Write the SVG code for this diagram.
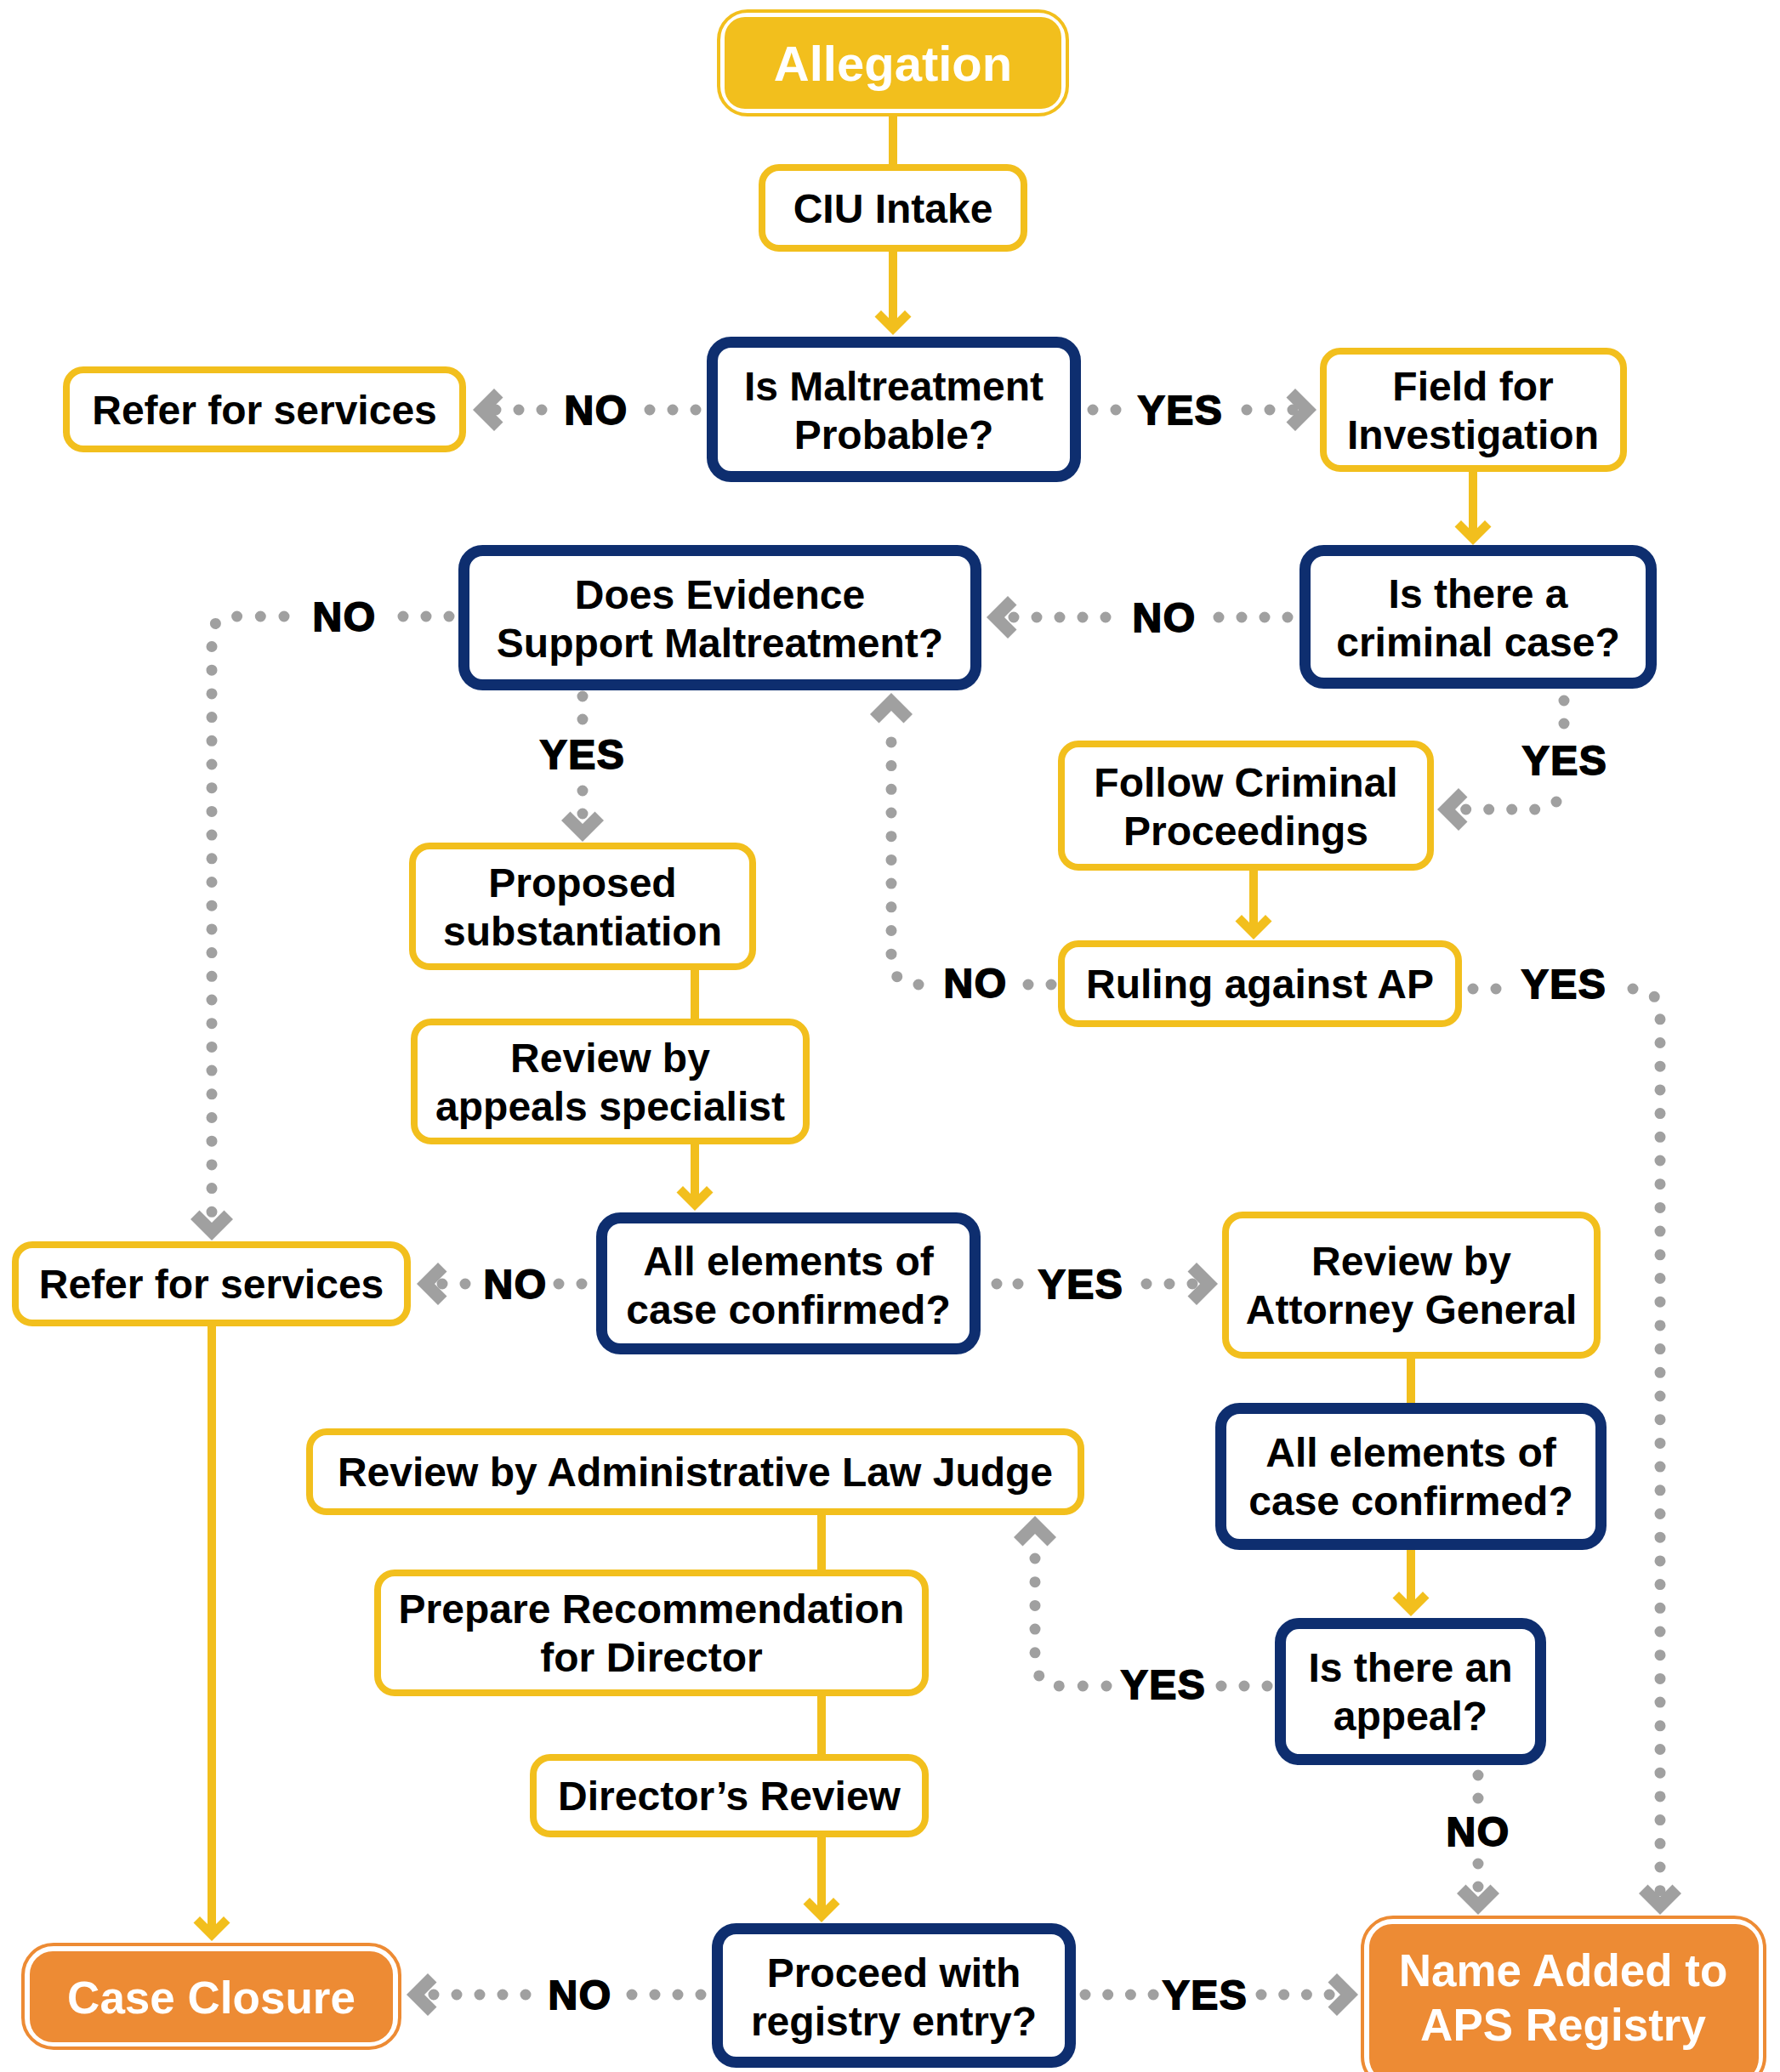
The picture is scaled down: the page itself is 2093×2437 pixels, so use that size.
<svg xmlns="http://www.w3.org/2000/svg" xmlns:xlink="http://www.w3.org/1999/xlink" width="2093" height="2437" viewBox="0 0 2093 2437">
<style>
.yb{fill:#fff;stroke:#F2BF1D;stroke-width:8}
.nb{fill:#fff;stroke:#0E2E6F;stroke-width:13}
.t{font-family:"Liberation Sans",Arial,sans-serif;font-weight:bold;font-size:48px;text-anchor:middle;fill:#000}
.w{font-family:"Liberation Sans",Arial,sans-serif;font-weight:bold;text-anchor:middle;fill:#fff}
.lb{font-family:"Liberation Sans",Arial,sans-serif;font-weight:bold;font-size:48px;text-anchor:middle;fill:#000;stroke:#000;stroke-width:1.8;letter-spacing:1.5px}
.dot{fill:none;stroke:#A0A0A0;stroke-width:13;stroke-linecap:round;stroke-dasharray:0 27}
.dotl{fill:none;stroke:#A0A0A0;stroke-width:13;stroke-linecap:round;stroke-dasharray:0 27.7}
.sol{fill:none;stroke:#F2BF1D;stroke-width:10}
</style>
<defs>
<polygon id="gch" points="0,0 -25,-25 -14.5,-35.5 0,-21 14.5,-35.5 25,-25" fill="#A0A0A0"/>
<polygon id="ych" points="0,0 -21.5,-21.5 -14,-29 0,-15 14,-29 21.5,-21.5" fill="#F2BF1D"/>
</defs>
<rect width="2093" height="2437" fill="#fff"/>

<g id="connectors">
<!-- solid yellow -->
<path class="sol" d="M1050 137V193"/>
<path class="sol" d="M1050 296V386"/>
<use href="#ych" transform="translate(1050,394)"/>
<path class="sol" d="M1732 555V633"/>
<use href="#ych" transform="translate(1732,641)"/>
<path class="sol" d="M1474 1024V1097"/>
<use href="#ych" transform="translate(1474,1105)"/>
<path class="sol" d="M817 1141V1198"/>
<path class="sol" d="M817 1346V1416"/>
<use href="#ych" transform="translate(817,1424)"/>
<path class="sol" d="M1659 1598V1650"/>
<path class="sol" d="M1659 1823V1893"/>
<use href="#ych" transform="translate(1659,1901)"/>
<path class="sol" d="M966 1782V1846"/>
<path class="sol" d="M966 1995V2063"/>
<path class="sol" d="M966 2161V2253"/>
<use href="#ych" transform="translate(966,2261)"/>
<path class="sol" d="M249 1560V2275"/>
<use href="#ych" transform="translate(249,2283)"/>

<!-- Is Maltreatment -> Refer (NO) -->
<path class="dot" d="M818 482H763"/>
<path class="dot" d="M637 482H582"/>
<use href="#gch" transform="translate(556,482) rotate(90)"/>
<text class="lb" x="701" y="499">NO</text>
<!-- Is Maltreatment -> Field (YES) -->
<path class="dot" d="M1285 482H1313"/>
<path class="dot" d="M1466 482H1521"/>
<use href="#gch" transform="translate(1548,482) rotate(-90)"/>
<text class="lb" x="1388" y="499">YES</text>
<!-- Criminal -> Does Evidence (NO) -->
<path class="dot" d="M1514 726H1432"/>
<path class="dot" d="M1300 726H1191"/>
<use href="#gch" transform="translate(1160,726) rotate(90)"/>
<text class="lb" x="1369" y="743">NO</text>
<!-- Does Evidence -> Refer (NO) -->
<path class="dot" d="M528 725H473"/>
<path class="dotl" d="M334 725H274Q249 725 249 750V1440"/>
<use href="#gch" transform="translate(249,1459)"/>
<text class="lb" x="405" y="742">NO</text>
<!-- Does Evidence -> Proposed (YES) -->
<path class="dot" d="M685 819V847"/>
<path class="dot" d="M685 930V958"/>
<use href="#gch" transform="translate(685,990)"/>
<text class="lb" x="685" y="904">YES</text>
<!-- Criminal -> Follow (YES) -->
<path class="dot" d="M1839 824V852"/>
<path class="dot" d="M1830 943L1807 952H1722"/>
<use href="#gch" transform="translate(1690,952) rotate(90)"/>
<text class="lb" x="1840" y="911">YES</text>
<!-- Ruling -> Does Evidence (NO) -->
<path class="dot" d="M1236 1158H1208"/>
<path class="dotl" d="M1080 1158Q1048 1158 1048 1126V846"/>
<use href="#gch" transform="translate(1048,815) rotate(180)"/>
<text class="lb" x="1147" y="1173">NO</text>
<!-- Ruling -> Name Added (YES) -->
<path class="dot" d="M1732 1163H1760"/>
<path class="dotl" d="M1920 1163Q1952 1163 1952 1195V2225"/>
<use href="#gch" transform="translate(1952,2252)"/>
<text class="lb" x="1839" y="1174">YES</text>
<!-- All elements (left) -> Refer (NO) -->
<path class="dot" d="M684 1510H656"/>
<path class="dot" d="M547 1510H519"/>
<use href="#gch" transform="translate(490,1510) rotate(90)"/>
<text class="lb" x="606" y="1527">NO</text>
<!-- All elements (left) -> AG (YES) -->
<path class="dot" d="M1172 1510H1198" style="stroke-dasharray:0 25"/>
<path class="dot" d="M1348 1510H1403"/>
<use href="#gch" transform="translate(1432,1510) rotate(-90)"/>
<text class="lb" x="1271" y="1527">YES</text>
<!-- Appeal -> ALJ (YES) -->
<path class="dot" d="M1490 1983H1435"/>
<path class="dotl" d="M1301 1983H1249Q1217 1983 1217 1951V1814"/>
<use href="#gch" transform="translate(1217,1783) rotate(180)"/>
<text class="lb" x="1368" y="1998">YES</text>
<!-- Appeal -> Name Added (NO) -->
<path class="dot" d="M1738 2088V2116"/>
<path class="dot" d="M1738 2192V2220"/>
<use href="#gch" transform="translate(1738,2252)"/>
<text class="lb" x="1738" y="2171">NO</text>
<!-- Proceed -> Case Closure (NO) -->
<path class="dot" d="M824 2346H742"/>
<path class="dot" d="M618 2346H509"/>
<use href="#gch" transform="translate(478,2346) rotate(90)"/>
<text class="lb" x="682" y="2363">NO</text>
<!-- Proceed -> Name Added (YES) -->
<path class="dot" d="M1276 2346H1357" style="stroke-dasharray:0 26.7"/>
<path class="dot" d="M1483 2346H1566" style="stroke-dasharray:0 26.7"/>
<use href="#gch" transform="translate(1597,2346) rotate(-90)"/>
<text class="lb" x="1417" y="2363">YES</text>
</g>

<g id="allegation">
<rect x="845" y="13" width="410" height="122" rx="34" fill="none" stroke="#F2BF1D" stroke-width="4"/>
<rect x="852" y="20" width="396" height="108" rx="24" fill="#F2BF1D"/>
<text class="w" x="1050" y="95" font-size="58">Allegation</text>
</g>
<g id="ciu-intake">
<rect class="yb" x="896" y="197" width="308" height="95" rx="20"/>
<text class="t" x="1050" y="262">CIU Intake</text>
</g>
<g id="is-maltreatment-probable">
<rect class="nb" x="837.5" y="402.5" width="427" height="158" rx="22"/>
<text class="t" x="1051" y="471">Is Maltreatment</text>
<text class="t" x="1051" y="528">Probable?</text>
</g>
<g id="refer-for-services-1">
<rect class="yb" x="78" y="435" width="466" height="93" rx="20"/>
<text class="t" x="311" y="499">Refer for services</text>
</g>
<g id="field-for-investigation">
<rect class="yb" x="1556" y="413" width="353" height="138" rx="20"/>
<text class="t" x="1732" y="471">Field for</text>
<text class="t" x="1732" y="528">Investigation</text>
</g>
<g id="is-there-a-criminal-case">
<rect class="nb" x="1534.5" y="647.5" width="407" height="156" rx="22"/>
<text class="t" x="1738" y="715">Is there a</text>
<text class="t" x="1738" y="772">criminal case?</text>
</g>
<g id="does-evidence-support">
<rect class="nb" x="545.5" y="647.5" width="602" height="158" rx="22"/>
<text class="t" x="846.5" y="716">Does Evidence</text>
<text class="t" x="846.5" y="773">Support Maltreatment?</text>
</g>
<g id="follow-criminal-proceedings">
<rect class="yb" x="1248" y="875" width="434" height="145" rx="20"/>
<text class="t" x="1465" y="937">Follow Criminal</text>
<text class="t" x="1465" y="994">Proceedings</text>
</g>
<g id="ruling-against-ap">
<rect class="yb" x="1248" y="1110" width="467" height="94" rx="20"/>
<text class="t" x="1481.5" y="1174">Ruling against AP</text>
</g>
<g id="proposed-substantiation">
<rect class="yb" x="485" y="995" width="400" height="142" rx="20"/>
<text class="t" x="685" y="1055">Proposed</text>
<text class="t" x="685" y="1112">substantiation</text>
</g>
<g id="review-by-appeals-specialist">
<rect class="yb" x="487" y="1202" width="461" height="140" rx="20"/>
<text class="t" x="717.5" y="1261">Review by</text>
<text class="t" x="717.5" y="1318">appeals specialist</text>
</g>
<g id="all-elements-confirmed-1">
<rect class="nb" x="707.5" y="1432.5" width="439" height="154" rx="22"/>
<text class="t" x="927" y="1500">All elements of</text>
<text class="t" x="927" y="1557">case confirmed?</text>
</g>
<g id="refer-for-services-2">
<rect class="yb" x="18" y="1464" width="461" height="92" rx="20"/>
<text class="t" x="248.5" y="1527">Refer for services</text>
</g>
<g id="review-by-attorney-general">
<rect class="yb" x="1441" y="1429" width="437" height="165" rx="20"/>
<text class="t" x="1659.5" y="1500">Review by</text>
<text class="t" x="1659.5" y="1557">Attorney General</text>
</g>
<g id="all-elements-confirmed-2">
<rect class="nb" x="1435.5" y="1656.5" width="447" height="160" rx="22"/>
<text class="t" x="1659" y="1725">All elements of</text>
<text class="t" x="1659" y="1782">case confirmed?</text>
</g>
<g id="review-by-alj">
<rect class="yb" x="364" y="1684" width="907" height="94" rx="20"/>
<text class="t" x="817.5" y="1748">Review by Administrative Law Judge</text>
</g>
<g id="prepare-recommendation">
<rect class="yb" x="444" y="1850" width="644" height="141" rx="20"/>
<text class="t" x="766" y="1909">Prepare Recommendation</text>
<text class="t" x="766" y="1966">for Director</text>
</g>
<g id="directors-review">
<rect class="yb" x="627" y="2067" width="461" height="90" rx="20"/>
<text class="t" x="857.5" y="2129">Director’s Review</text>
</g>
<g id="is-there-an-appeal">
<rect class="nb" x="1505.5" y="1909.5" width="306" height="160" rx="22"/>
<text class="t" x="1658.5" y="1978">Is there an</text>
<text class="t" x="1658.5" y="2035">appeal?</text>
</g>
<g id="proceed-with-registry-entry">
<rect class="nb" x="843.5" y="2268.5" width="415" height="157" rx="22"/>
<text class="t" x="1051" y="2337">Proceed with</text>
<text class="t" x="1051" y="2394">registry entry?</text>
</g>
<g id="case-closure">
<rect x="27" y="2287" width="443" height="122" rx="36" fill="none" stroke="#ED8B34" stroke-width="4"/>
<rect x="35" y="2295" width="427" height="107" rx="27" fill="#ED8B34"/>
<text class="w" x="248.5" y="2368" font-size="53">Case Closure</text>
</g>
<g id="name-added-to-aps-registry">
<rect x="1602" y="2255" width="473" height="200" rx="36" fill="none" stroke="#ED8B34" stroke-width="4"/>
<rect x="1610" y="2263" width="458" height="185" rx="27" fill="#ED8B34"/>
<text class="w" x="1838" y="2336" font-size="53">Name Added to</text>
<text class="w" x="1838" y="2400" font-size="53">APS Registry</text>
</g>
</svg>
